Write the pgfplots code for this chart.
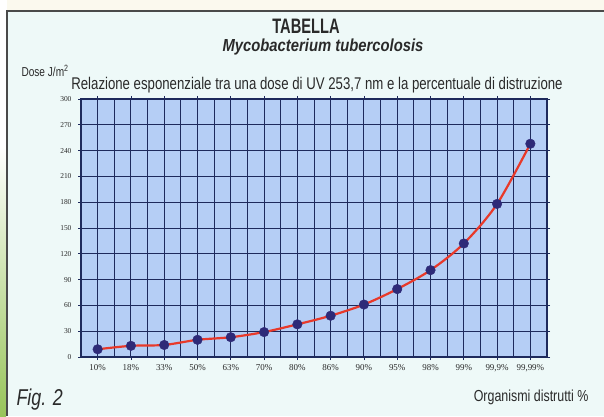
\documentclass[border=0pt]{standalone}
\usepackage{fontspec}
\setmainfont{Liberation Sans}[FakeStretch=0.78]
\newfontfamily\titlefont{Liberation Sans}[FakeStretch=0.70]
\newfontfamily\subfont{Liberation Sans}[FakeStretch=0.85]
\newfontfamily\tickfont{Liberation Serif}
\usepackage{pgfplots}
\pgfplotsset{compat=1.18}
\usepackage{pgfplotstable}
\definecolor{bgc}{HTML}{EEF9F8}
\definecolor{topband}{HTML}{FBF9EE}
\definecolor{framec}{HTML}{4A4A4A}
\definecolor{plotbg}{HTML}{B5CEF5}
\definecolor{gridc}{HTML}{1E2A5C}
\definecolor{curvec}{HTML}{E8392A}
\definecolor{markc}{HTML}{2E2A78}
\definecolor{greenc}{HTML}{98C45A}
\definecolor{textc}{HTML}{2A2A2A}
\pgfplotstableread{
x y
0 9
1 13
2 14
3 20
4 23
5 29
6 38
7 48
8 61
9 79
10 101
11 132
12 178
13 248
}\dosedata
\begin{document}
\begin{tikzpicture}[x=1bp,y=1bp]
\useasboundingbox (0,0) rectangle (604,416);
\fill[bgc] (0,0) rectangle (604,416);
\fill[topband] (0,405) rectangle (604,416);
\fill[white] (0,0) rectangle (7,416);
\shade[top color=white, bottom color=greenc] (0,0) rectangle (6,270);
\draw[framec, line width=1.6bp] (7,0) -- (7,405) -- (604,405);
\begin{axis}[
  at={(81bp,59bp)}, anchor=south west,
  scale only axis, width=466bp, height=258bp,
  xmin=-0.5, xmax=13.5, ymin=0, ymax=300,
  axis background/.style={fill=plotbg},
  xtick={0,...,13},
  xticklabels={10\%,18\%,33\%,50\%,63\%,70\%,80\%,86\%,90\%,95\%,98\%,99\%,{99,9\%},{99,99\%}},
  minor xtick={-0.5,0.5,...,13.5},
  ytick={0,30,...,300},
  grid=both,
  major grid style={gridc, line width=0.9bp},
  minor grid style={gridc, line width=0.9bp},
  axis line style={gridc, line width=1.4bp},
  tick style={gridc, line width=0.8bp},
  tick align=outside,
  major tick length=3bp, minor tick length=0bp,
  /pgf/number format/assume math mode=true,
  xticklabel style={font=\tickfont\fontsize{9}{10}\selectfont, text=textc, yshift=-1bp},
  yticklabel style={font=\tickfont\fontsize{7.5}{8}\selectfont, text=textc, xshift=-3bp},
  clip=false,
]
\addplot[curvec, line width=2.2bp, smooth, tension=0.5] table[x=x,y=y] {\dosedata};
\addplot[only marks, mark=*, mark size=4.8bp, mark options={fill=markc, draw=markc}] table[x=x,y=y] {\dosedata};
\end{axis}
\node[text=textc, font=\titlefont\bfseries\fontsize{21}{23}\selectfont] at (306,390) {TABELLA};
\node[text=textc, font=\subfont\bfseries\itshape\fontsize{17.5}{19}\selectfont] at (323,369) {Mycobacterium tubercolosis};
\node[text=textc, anchor=west, font=\fontsize{13}{14}\selectfont] at (18,345) {Dose J/m\textsuperscript{2}};
\node[text=textc, font=\fontsize{17}{19}\selectfont] at (317,331) {Relazione esponenziale tra una dose di UV 253,7 nm e la percentuale di distruzione};
\node[text=textc, anchor=west, font=\itshape\fontsize{23}{25}\selectfont] at (13,16) {Fig. 2};
\node[text=textc, anchor=east, font=\fontsize{16}{18}\selectfont] at (592,19) {Organismi distrutti \%};
\end{tikzpicture}
\end{document}
